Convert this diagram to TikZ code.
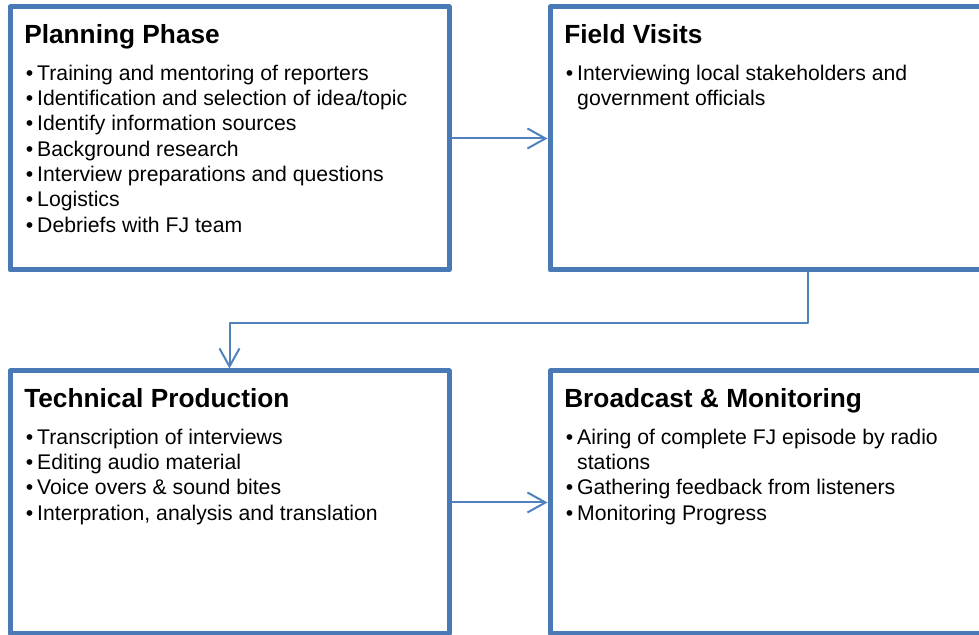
\documentclass[tikz,border=0pt]{standalone}
\usepackage{fontspec}
\setmainfont{Liberation Sans}
\usetikzlibrary{arrows.meta,positioning}

\newcommand{\bitem}{\makebox[8.6pt][l]{\textbullet}}
\newcommand{\wrapin}{\hspace*{8.6pt}}
\newcommand{\firstline}{\rule{0pt}{12pt}}

\begin{document}
\begin{tikzpicture}[
    x=0.75pt, y=0.75pt, % one unit = one pixel of the target
    >={Straight Barb[length=13.5pt,width=15pt]},
    line join=round,
    node distance=72pt,
    box/.style={draw=phase_border, line width=3.75pt, fill=white, minimum height=197.25pt, inner sep=0pt},
    narrow/.style={box, minimum width=329.25pt},
    wide/.style={box, minimum width=386.25pt},
    head/.style={anchor=base west, inner sep=0pt, font=\fontsize{19.7}{23.6}\selectfont\bfseries},
    items/.style={anchor=north west, inner sep=0pt, align=left, font=\fontsize{15.9}{19}\selectfont},
    link/.style={->, draw=link_color, line width=1.5pt}
]

% --- 1. SETTINGS & COLORS ---
\definecolor{phase_border}{RGB}{74,122,182}
\definecolor{link_color}{RGB}{79,129,189}

% --- 2. CLIP TO THE PAGE ---
% The right-hand boxes run past the edge
\clip (0,0) rectangle (979,635);

% --- 3. PHASE BOXES ---
\node[narrow] (plan) at (229.5,496.5) {};
\node[wide, right=of plan] (field) {};
\node[narrow, below=of plan] (tech) {};
\node[wide, right=of tech] (broad) {};

% --- 4. CONNECTORS ---
\draw[link] (plan.east) -- (field.west);
\draw[link] (field.south) -- ++(0,-50.5) -| (tech.north);
\draw[link] (tech.east) -- (broad.west);

% --- 5. TITLES ---
\node[head] (planhead) at ([shift={(16.5,-39.5)}]plan.north west) {Planning Phase};
\node[head] (fieldhead) at ([shift={(16.5,-39.5)}]field.north west) {Field Visits};
\node[head] (techhead) at ([shift={(16.5,-39.5)}]tech.north west) {Technical Production};
\node[head] (broadhead) at ([shift={(16.5,-39.5)}]broad.north west) {Broadcast \& Monitoring};

% --- 6. BULLET LISTS ---
\node[items] (planlist) at ([shift={(18,-59.5)}]plan.north west) {%
    \firstline\bitem Training and mentoring of reporters\\
    \bitem Identification and selection of idea/topic\\
    \bitem Identify information sources\\
    \bitem Background research\\
    \bitem Interview preparations and questions\\
    \bitem Logistics\\
    \bitem Debriefs with FJ team};
\node[items] (fieldlist) at ([shift={(18,-59.5)}]field.north west) {%
    \firstline\bitem Interviewing local stakeholders and\\
    \wrapin government officials};
\node[items] (techlist) at ([shift={(18,-59.5)}]tech.north west) {%
    \firstline\bitem Transcription of interviews\\
    \bitem Editing audio material\\
    \bitem Voice overs \& sound bites\\
    \bitem Interpration, analysis and translation};
\node[items] (broadlist) at ([shift={(18,-59.5)}]broad.north west) {%
    \firstline\bitem Airing of complete FJ episode by radio\\
    \wrapin stations\\
    \bitem Gathering feedback from listeners\\
    \bitem Monitoring Progress};

\end{tikzpicture}
\end{document}
